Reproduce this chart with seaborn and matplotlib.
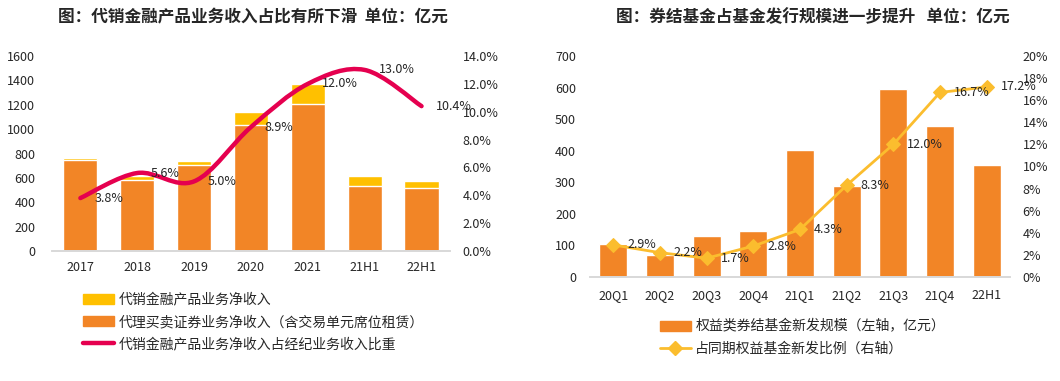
import matplotlib
matplotlib.use("Agg")
import matplotlib.pyplot as plt
from matplotlib.path import Path
from matplotlib.patches import PathPatch, Patch
from matplotlib.lines import Line2D
from matplotlib.ticker import PercentFormatter, MultipleLocator
import seaborn as sns
import pandas as pd

# left chart: 代销金融产品 (亿元)
years = ["2017", "2018", "2019", "2020", "2021", "21H1", "22H1"]
agency_sales = [19, 33, 33, 109, 165, 82, 58]           # 代销金融产品业务净收入
brokerage = [748, 581, 704, 1033, 1205, 532, 515]       # 代理买卖证券业务净收入
share_pct = [3.8, 5.6, 5.0, 8.9, 12.0, 13.0, 10.4]      # 占经纪业务收入比重 (%)

# right chart: 券结基金
quarters = ["20Q1", "20Q2", "20Q3", "20Q4", "21Q1", "21Q2", "21Q3", "21Q4", "22H1"]
new_scale = [105, 70, 131, 146, 403, 287, 595, 478, 355]
ratio_pct = [2.9, 2.2, 1.7, 2.8, 4.3, 8.3, 12.0, 16.7, 17.2]

ORANGE = "#F28526"
YELLOW = "#FFC000"
PINK = "#E5004F"
GOLD = "#FBBD2E"

sns.set_theme(style="white")
plt.rcParams["font.family"] = ["Noto Sans CJK SC", "DejaVu Sans"]
plt.rcParams["axes.unicode_minus"] = False

fig = plt.figure(figsize=(10.6, 3.81), dpi=100)


def clean(ax):
    for s in ["top", "left", "right"]:
        ax.spines[s].set_visible(False)
    ax.spines["bottom"].set_color("#D9D9D9")
    ax.tick_params(length=0)


def smooth_path(xs, ys):
    # cubic bezier through the points (Catmull-Rom style, like Excel smoothing)
    pts = list(zip(xs, ys))
    verts = [pts[0]]
    codes = [Path.MOVETO]
    n = len(pts)
    for i in range(n - 1):
        p0 = pts[i - 1] if i > 0 else pts[i]
        p1, p2 = pts[i], pts[i + 1]
        p3 = pts[i + 2] if i + 2 < n else pts[i + 1]
        c1 = (p1[0] + (p2[0] - p0[0]) / 6, p1[1] + (p2[1] - p0[1]) / 6)
        c2 = (p2[0] - (p3[0] - p1[0]) / 6, p2[1] - (p3[1] - p1[1]) / 6)
        verts += [c1, c2, p2]
        codes += [Path.CURVE4] * 3
    return Path(verts, codes)


# ---------------- left chart ----------------
ax1 = fig.add_axes([0.049, 0.3412, 0.3755, 0.5118])
df1 = pd.DataFrame({"year": years,
                    "total": [a + b for a, b in zip(agency_sales, brokerage)],
                    "brokerage": brokerage})
sns.barplot(data=df1, x="year", y="total", color=YELLOW, width=0.6,
            saturation=1, ax=ax1)
sns.barplot(data=df1, x="year", y="brokerage", color=ORANGE, width=0.6,
            saturation=1, ax=ax1)
ax1.set_xlim(-0.5, len(years) - 0.5)
ax1.set_ylim(0, 1600)
ax1.yaxis.set_major_locator(MultipleLocator(200))
ax1.set_xlabel("")
ax1.set_ylabel("")
clean(ax1)
ax1.tick_params(axis="y", labelsize=9, pad=12)
ax1.tick_params(axis="x", labelsize=9, pad=7)

ax1b = ax1.twinx()
ax1b.set_ylim(0, 14)
ax1b.yaxis.set_major_locator(MultipleLocator(2))
ax1b.yaxis.set_major_formatter(PercentFormatter(100, decimals=1))
clean(ax1b)
ax1b.tick_params(axis="y", labelsize=9, pad=9)
ax1b.grid(False)
xs = list(range(len(years)))
ax1b.add_patch(PathPatch(smooth_path(xs, share_pct), fill=False,
                         edgecolor=PINK, lw=3.2, capstyle="round"))
for x, v in zip(xs, share_pct):
    ax1b.annotate(f"{v:.1f}%", (x, v), xytext=(10, 0), textcoords="offset points",
                  ha="left", va="center", fontsize=9)

fig.text(0.239, 0.955, "图：代销金融产品业务收入占比有所下滑  单位：亿元",
         ha="center", va="center", fontsize=12, fontweight="bold")

h1 = [Patch(color=YELLOW), Patch(color=ORANGE), Line2D([], [], color=PINK, lw=3.2)]
l1 = ["代销金融产品业务净收入", "代理买卖证券业务净收入（含交易单元席位租赁）",
      "代销金融产品业务净收入占经纪业务收入比重"]
fig.legend(h1, l1, loc="upper left", bbox_to_anchor=(0.0783, 0.232),
           frameon=False, fontsize=10, borderpad=0, borderaxespad=0,
           handlelength=2.2, handletextpad=0.35, labelspacing=0.6)

# ---------------- right chart ----------------
ax2 = fig.add_axes([0.5566, 0.273, 0.3962, 0.580])
df2 = pd.DataFrame({"q": quarters, "scale": new_scale, "ratio": ratio_pct})
sns.barplot(data=df2, x="q", y="scale", color=ORANGE, width=0.6,
            saturation=1, ax=ax2)
ax2.set_xlim(-0.5, len(quarters) - 0.5)
ax2.set_ylim(0, 700)
ax2.yaxis.set_major_locator(MultipleLocator(100))
ax2.set_xlabel("")
ax2.set_ylabel("")
clean(ax2)
ax2.tick_params(axis="y", labelsize=9, pad=10)
ax2.tick_params(axis="x", labelsize=9, pad=9)

ax2b = ax2.twinx()
xq = list(range(len(quarters)))
sns.lineplot(x=xq, y=ratio_pct, color=GOLD, lw=2, marker="D", markersize=7,
             markeredgecolor=GOLD, ax=ax2b)
ax2b.set_ylim(0, 20)
ax2b.yaxis.set_major_locator(MultipleLocator(2))
ax2b.yaxis.set_major_formatter(PercentFormatter(100, decimals=0))
clean(ax2b)
ax2b.tick_params(axis="y", labelsize=9, pad=9)
ax2b.grid(False)
for x, v in zip(xq, ratio_pct):
    ax2b.annotate(f"{v:.1f}%", (x, v), xytext=(10, 0), textcoords="offset points",
                  ha="left", va="center", fontsize=9)

fig.text(0.767, 0.955, "图：券结基金占基金发行规模进一步提升   单位：亿元",
         ha="center", va="center", fontsize=12, fontweight="bold")

h2 = [Patch(color=ORANGE),
      Line2D([], [], color=GOLD, lw=2, marker="D", markersize=7)]
l2 = ["权益类券结基金新发规模（左轴，亿元）", "占同期权益基金新发比例（右轴）"]
fig.legend(h2, l2, loc="upper left", bbox_to_anchor=(0.6226, 0.161),
           frameon=False, fontsize=10, borderpad=0, borderaxespad=0,
           handlelength=2.2, handletextpad=0.35, labelspacing=0.6)

fig.savefig("out.png", dpi=100)
